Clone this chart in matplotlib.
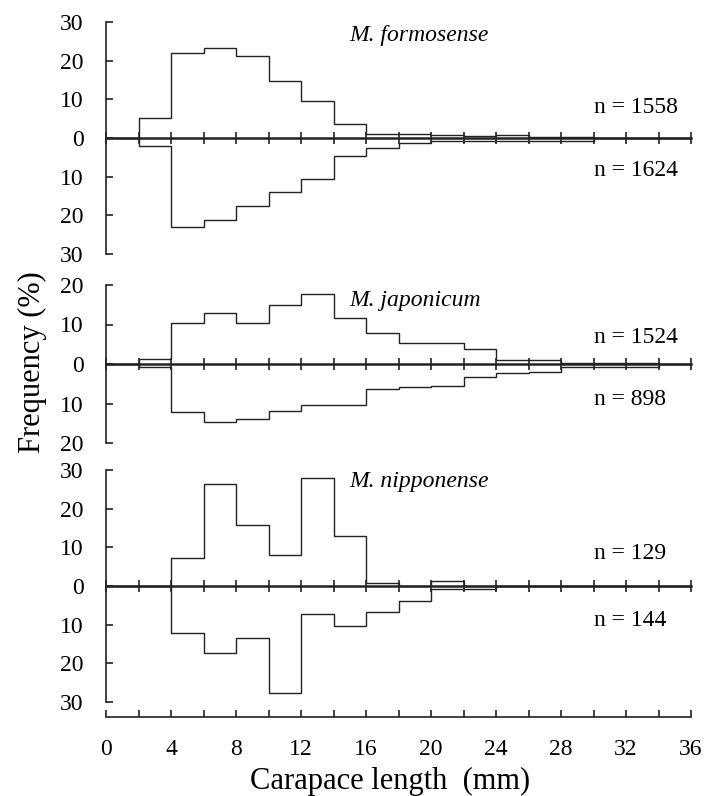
import numpy as np
import matplotlib
matplotlib.use("Agg")
import matplotlib.pyplot as plt
from matplotlib.ticker import FuncFormatter, MultipleLocator

plt.rcParams['font.family'] = ['Liberation Serif', 'DejaVu Serif']

## size classes, 2 mm wide ##
edges = np.arange(0, 38, 2)

## frequencies (%) for each 2 mm class, upper / lower half of each panel ##
formosense_up  = [0, 5.1, 22.0, 23.3, 21.2, 14.7, 9.5, 3.5, 1.0, 1.0, 0.8, 0.4, 0.9, 0.3, 0.2, 0, 0, 0]
formosense_low = [0, 2.1, 23.0, 21.2, 17.7, 13.9, 10.5, 4.7, 2.6, 1.4, 0.9, 0.8, 0.8, 0.8, 0.8, 0, 0, 0]
japonicum_up   = [0, 1.3, 10.3, 13.0, 10.3, 14.9, 17.6, 11.6, 7.8, 5.2, 5.2, 3.8, 1.0, 1.0, 0.3, 0.3, 0.3, 0]
japonicum_low  = [0, 0.8, 12.2, 14.8, 14.0, 11.8, 10.5, 10.5, 6.4, 5.7, 5.5, 3.2, 2.4, 1.9, 0.8, 0.8, 0.8, 0]
nipponense_up  = [0, 0, 7.3, 26.3, 15.9, 8.1, 28.0, 12.9, 0.9, 0, 1.2, 0, 0, 0, 0, 0, 0, 0]
nipponense_low = [0, 0, 12.2, 17.4, 13.5, 27.7, 7.3, 10.4, 6.6, 4.0, 0.7, 0.7, 0, 0, 0, 0, 0, 0]

species = ["M. formosense", "M. japonicum", "M. nipponense"]
n_up  = [1558, 1524, 129]
n_low = [1624, 898, 144]
ylims = [30, 20, 30]
name_y = [26.6, 16.2, 26.9]
nup_y  = [8.0, 6.8, 8.3]
nlow_y = [-8.3, -9.1, -9.0]

W, H = 705, 796
fig = plt.figure(figsize=(W/100, H/100), dpi=100)
L, R = 106/W, 691/W
boxes = [(22, 254), (285, 443), (470, 702)]   # top/bottom in pixels
axs = [fig.add_axes([L, 1-b/H, R-L, (b-t)/H]) for t, b in boxes]

ups = [formosense_up, japonicum_up, nipponense_up]
lows = [formosense_low, japonicum_low, nipponense_low]
col = '#222222'
fs = 17

for i, ax in enumerate(axs):
    ax.stairs(ups[i], edges, baseline=0, color=col, lw=1.0)
    ax.stairs(-np.array(lows[i]), edges, baseline=0, color=col, lw=1.0)
    lim = ylims[i]
    ax.set_xlim(0, 36)
    ax.set_ylim(-lim, lim)
    ax.set_yticks(np.arange(-lim, lim+1, 10))
    ax.yaxis.set_major_formatter(FuncFormatter(lambda v, p: "%d" % abs(v)))
    ax.tick_params(axis='y', direction='in', length=5, width=1.2, pad=16,
                   labelsize=fs, colors=col, labelcolor='black')
    ax.spines['left'].set_linewidth(1.2)
    ax.spines['left'].set_color(col)
    for s in ['top', 'right']:
        ax.spines[s].set_visible(False)
    ax.patch.set_visible(False)

    # zero line with ticks every 2 mm
    ax.spines['bottom'].set_position(('data', 0))
    ax.spines['bottom'].set_linewidth(1.8)
    ax.spines['bottom'].set_color(col)
    ax.set_xticks(edges)
    ax.tick_params(axis='x', direction='inout', length=9, width=1.2,
                   labelbottom=False, colors=col)

    ax.text(15, name_y[i], species[i], fontsize=fs, style='italic', va='center')
    ax.text(30, nup_y[i], "n = %d" % n_up[i], fontsize=fs, va='center')
    ax.text(30, nlow_y[i], "n = %d" % n_low[i], fontsize=fs, va='center')

# shared length axis under the panels
axx = fig.add_axes([L, 1-717/H, R-L, 1e-4])
axx.patch.set_visible(False)
for s in ['top', 'right', 'left']:
    axx.spines[s].set_visible(False)
axx.spines['bottom'].set_linewidth(1.2)
axx.spines['bottom'].set_color(col)
axx.set_xlim(0, 36)
axx.set_yticks([])
axx.xaxis.set_major_locator(MultipleLocator(4))
axx.xaxis.set_minor_locator(MultipleLocator(2))
axx.tick_params(axis='x', which='both', direction='in', length=5, width=1.2,
                pad=16, labelsize=fs, colors=col, labelcolor='black')

fig.text(32/W, 1-362/H, "Frequency (%)", rotation=90, fontsize=22, ha='center', va='center')
fig.text(390/W, 1-781/H, "Carapace length  (mm)", fontsize=22, ha='center', va='center')

fig.savefig("out.png", dpi=100)
